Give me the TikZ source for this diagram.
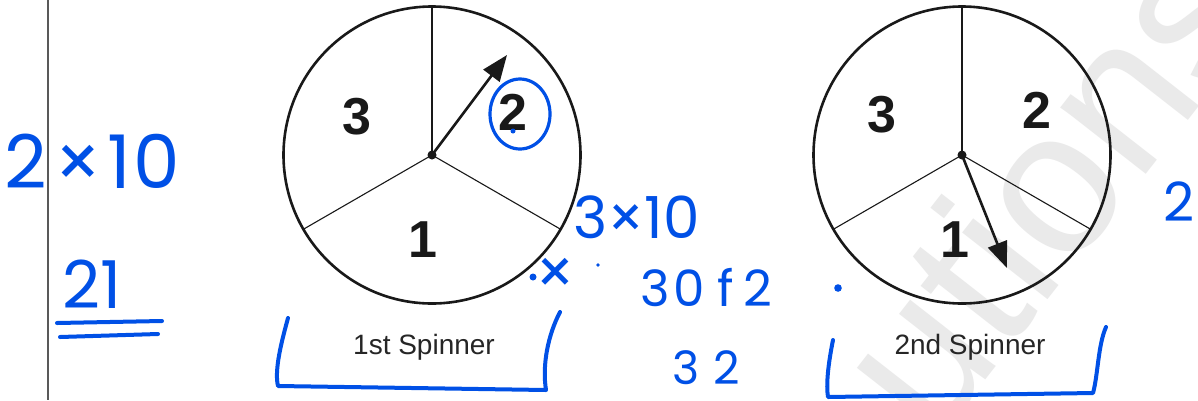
\documentclass[tikz,border=0pt]{standalone}
\usepackage{fontspec}
\setmainfont{Liberation Sans}
\newfontfamily\hand{Poppins}
\usetikzlibrary{arrows.meta}
\definecolor{ink}{RGB}{0,80,230}
\definecolor{wm}{RGB}{234,234,234}
\begin{document}
\begin{tikzpicture}[x=1pt,y=-1pt,
  wheel/.style={circle, draw=black!90, line width=2.6pt, minimum size=297pt, inner sep=0pt, outer sep=0pt},
  divider/.style={line width=1.1pt, draw=black!90},
  pointer/.style={line width=2.6pt, draw=black!90, -{Triangle[length=26pt,width=20pt]}},
  num/.style={font=\bfseries\fontsize{52}{52}\selectfont, text=black!90},
  caption/.style={font=\fontsize{28}{28}\selectfont, text=black!85},
  hw/.style={font=\hand\fontsize{#1}{#1}\selectfont, text=ink, inner sep=0pt},
  hwline/.style={draw=ink, line width=4pt, line cap=round, line join=round}
]
\useasboundingbox (0,0) rectangle (1198,400);
\clip (0,0) rectangle (1198,400);
\fill[white] (0,0) rectangle (1198,400);

% watermark
\node[rotate=52, font=\fontsize{205}{205}\selectfont, text=wm] (wmk) at (1045,185) {utions};

% margin line
\draw[line width=1.5pt, black!65] (48,0) -- (48,400);

% ---- 1st spinner
\coordinate (c1) at (432,155);
\node[wheel] (s1) at (c1) {};
\draw[divider] (c1) -- (s1.90);
\draw[divider] (c1) -- (s1.210);
\draw[divider] (c1) -- (s1.330);
\node[num] (a3) at (357,117) {3};
\node[num] (a2) at (513,112) {2};
\node[num] (a1) at (423,240) {1};
\coordinate (t1) at (507,55);
\draw[pointer] (c1) -- (t1);
\fill[black!90] (c1) circle (4.5);
\node[caption] (cap1) at (424,347) {1st Spinner};

% ---- 2nd spinner
\coordinate (c2) at (962,155);
\node[wheel] (s2) at (c2) {};
\draw[divider] (c2) -- (s2.90);
\draw[divider] (c2) -- (s2.210);
\draw[divider] (c2) -- (s2.330);
\node[num] (b3) at (882,115) {3};
\node[num] (b2) at (1037,110) {2};
\node[num] (b1) at (955,240) {1};
\coordinate (t2) at (1007,268);
\draw[pointer] (c2) -- (t2);
\fill[black!90] (c2) circle (4.5);
\node[caption] (cap2) at (970,347) {2nd Spinner};

% ---- handwritten notes
\node[hw=74, anchor=base west] (h1) at (4,188) {2\kern8pt×\kern5pt1\kern3pt0};
\node[hw=66, anchor=base west] (h2) at (62,308) {21};
\draw[hwline] (57,323) -- (162,321);
\draw[hwline] (60,337) -- (158,334);

\draw[hwline, line width=3.2pt] (520,114) ellipse [x radius=30, y radius=35];
\fill[ink] (513,131) circle (2.5);

\node[hw=58, anchor=base west] (h3) at (573,238) {3×10};
\node[hw=62] (h4) at (555,276) {×};
\fill[ink] (533,277) circle (3.5);
\fill[ink] (598,265) circle (1.8);
\node[hw=50, anchor=base west] (h5) at (640,306) {3\kern4pt0\kern12pt f\kern10pt2};
\fill[ink] (838,288) circle (3.8);
\node[hw=46, anchor=base west] (h6) at (672,384) {3\kern14pt2};
\node[hw=54, anchor=base west] (h7) at (1163,221) {2};

\draw[hwline] (288,318) .. controls (282,340) and (274,370) .. (278,386)
  -- (546,390) .. controls (542,365) and (548,335) .. (560,312);
\draw[hwline] (833,340) .. controls (828,365) and (826,385) .. (828,397)
  -- (1093,393) .. controls (1098,375) and (1098,345) .. (1106,327);
\end{tikzpicture}
\end{document}
